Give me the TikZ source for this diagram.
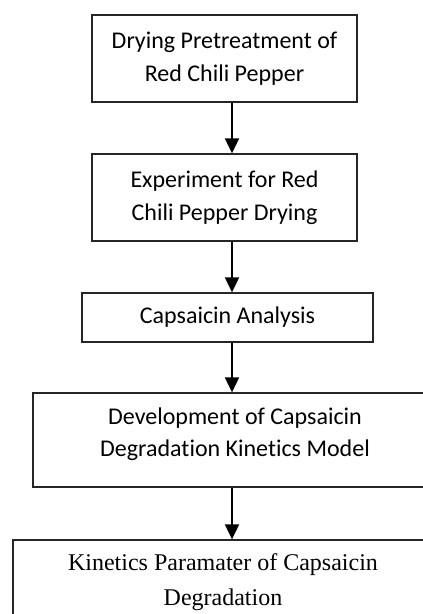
\documentclass[tikz,border=0pt]{standalone}
\usepackage{fontspec}
\setmainfont{Carlito}[Ligatures=NoCommon]
\newfontfamily\timesfont{Liberation Serif}
\usetikzlibrary{arrows.meta,positioning}

\tikzset{
	stage/.style={rectangle,draw=black!85,line width=1.3pt,inner sep=0pt,align=center,
		font=\fontsize{24}{33}\selectfont},
	stagetext/.style={align=center,inner sep=0pt,font=\fontsize{24}{32}\selectfont},
	flow/.style={-{Triangle[length=15pt,width=14pt]},line width=2pt},
}

\begin{document}
\begin{tikzpicture}[x=1pt,y=-1pt]
	\path[use as bounding box,clip] (0,0) rectangle (423,614);
	% process boxes
	\node[stage,minimum width=265pt,minimum height=87pt] (b1) at (224.5,58.5)
		{Drying Pretreatment of\\Red Chili Pepper};
	\node[stage,minimum width=265pt,minimum height=87pt] (b2) at (224.5,197.5)
		{Experiment for Red\\Chili Pepper Drying};
	\node[stage,minimum width=291pt,minimum height=49pt] (b3) at (227.5,317.5)
		{Capsaicin Analysis};
	\node[stage,minimum width=404pt,minimum height=94pt] (b4) at (235,440) {};
	\node[stagetext] (t4) at (235,434)
		{Development of Capsaicin\\Degradation Kinetics Model};
	\node[stage,minimum width=420pt,minimum height=100pt] (b5) at (223,590) {};
	\node[stagetext,font=\timesfont\fontsize{24}{35}\selectfont] (t5) at (223,582)
		{Kinetics Paramater of Capsaicin\\Degradation};
	% arrows
	\def\arrowx{232}
	\draw[flow] (b1.south -| \arrowx,0) -- (b2.north -| \arrowx,0);
	\draw[flow] (b2.south -| \arrowx,0) -- (b3.north -| \arrowx,0);
	\draw[flow] (b3.south -| \arrowx,0) -- (b4.north -| \arrowx,0);
	\draw[flow] (b4.south -| \arrowx,0) -- (b5.north -| \arrowx,0);
\end{tikzpicture}
\end{document}
